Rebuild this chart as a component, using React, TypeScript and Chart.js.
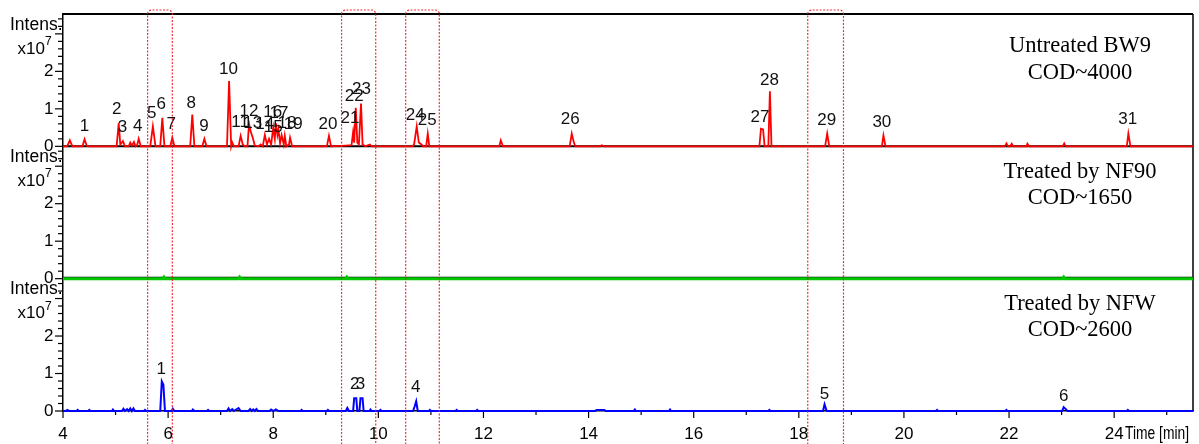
import React, { useEffect, useRef } from 'react';
import { Chart, registerables } from 'chart.js';

Chart.register(...registerables);

// ---------- axes ----------
const X_MIN = 4;
const X_MAX = 25.5;
const X_TICKS = [4, 5, 6, 7, 8, 9, 10, 11, 12, 13, 14, 15, 16, 17, 18, 19, 20, 21, 22, 23, 24, 25];
const X_LABELLED = [4, 6, 8, 10, 12, 14, 16, 18, 20, 22, 24];
const X_TITLE = 'Time [min]';
const Y_MIN = 0;
const Y_MAX = 3.53;
const Y_LABELLED = [0, 1, 2];
const Y_MAJOR = [0, 1, 2, 3];
const Y_MINOR = [0.2, 0.4, 0.6, 0.8, 1.2, 1.4, 1.6, 1.8, 2.2, 2.4, 2.6, 2.8, 3.2, 3.4];

// ---------- panels ----------
const PANEL_TITLES: [string, string][] = [
  ['Untreated BW9', 'COD~4000'],
  ['Treated by NF90', 'COD~1650'],
  ['Treated by NFW', 'COD~2600'],
];

// ---------- traces: [time (min), intensity (x10^7)] ----------
const untreatedBW9: [number, number][] = [
  [4.0, 0], [4.08, 0], [4.13, 0.16], [4.18, 0], [4.37, 0], [4.41, 0.19], [4.45, 0.02], [4.48, 0],
  [5.02, 0], [5.06, 0.62], [5.09, 0.05], [5.14, 0.14], [5.18, 0], [5.25, 0], [5.28, 0.1], [5.31, 0.02],
  [5.35, 0.12], [5.38, 0], [5.41, 0.03], [5.44, 0.2], [5.48, 0], [5.66, 0], [5.71, 0.53], [5.76, 0],
  [5.85, 0], [5.89, 0.76], [5.93, 0], [6.04, 0], [6.08, 0.23], [6.12, 0], [6.42, 0], [6.46, 0.85],
  [6.5, 0], [6.65, 0], [6.69, 0.2], [6.73, 0], [7.12, 0], [7.16, 1.74], [7.2, 0], [7.22, 0.1], [7.25, 0],
  [7.34, 0], [7.38, 0.28], [7.42, 0.05], [7.46, 0], [7.51, 0], [7.54, 0.6], [7.57, 0.4], [7.61, 0.23],
  [7.65, 0.02], [7.72, 0], [7.76, 0.05], [7.8, 0], [7.84, 0.3], [7.88, 0.05], [7.92, 0.2], [7.96, 0.05],
  [8.0, 0.5], [8.03, 0.2], [8.05, 0.62], [8.08, 0.3], [8.1, 0.45], [8.13, 0.08], [8.16, 0.3], [8.2, 0.05],
  [8.22, 0.28], [8.25, 0], [8.3, 0.05], [8.32, 0.23], [8.36, 0], [9.02, 0], [9.06, 0.28], [9.1, 0],
  [9.38, 0.02], [9.49, 0.03], [9.52, 0.38], [9.54, 0.1], [9.57, 1.03], [9.6, 0.1], [9.63, 0.05],
  [9.67, 1.14], [9.7, 0.05], [9.75, 0], [9.84, 0.05], [9.87, 0], [10.65, 0], [10.68, 0.05], [10.73, 0.53],
  [10.77, 0.1], [10.82, 0.05], [10.85, 0], [10.91, 0], [10.94, 0.34], [10.97, 0], [12.3, 0], [12.33, 0.16],
  [12.37, 0], [13.64, 0], [13.68, 0.34], [13.72, 0.1], [13.75, 0], [14.22, 0], [14.25, 0.03], [14.3, 0],
  [17.25, 0], [17.28, 0.47], [17.32, 0.45], [17.35, 0], [17.42, 0], [17.45, 1.47], [17.48, 0],
  [18.5, 0], [18.54, 0.34], [18.58, 0], [19.58, 0], [19.61, 0.29], [19.65, 0], [21.92, 0], [21.95, 0.08],
  [21.98, 0], [22.02, 0], [22.05, 0.07], [22.08, 0], [22.33, 0], [22.35, 0.07], [22.38, 0], [23.02, 0],
  [23.05, 0.08], [23.08, 0], [24.24, 0], [24.27, 0.34], [24.31, 0], [25.5, 0],
];

const treatedNF90: [number, number][] = [
  [4.0, 0], [5.9, 0], [5.92, 0.04], [5.94, 0], [7.34, 0], [7.36, 0.04], [7.38, 0], [9.38, 0], [9.4, 0.04],
  [9.42, 0], [23.02, 0], [23.04, 0.04], [23.06, 0], [25.5, 0],
];

const treatedNFW: [number, number][] = [
  [4.0, 0], [4.06, 0], [4.08, 0.03], [4.12, 0], [4.26, 0], [4.28, 0.03], [4.3, 0], [4.48, 0], [4.5, 0.03],
  [4.52, 0], [4.93, 0], [4.95, 0.04], [4.97, 0], [5.12, 0], [5.15, 0.06], [5.18, 0], [5.22, 0.05],
  [5.25, 0], [5.28, 0.07], [5.31, 0], [5.34, 0.07], [5.37, 0], [5.54, 0], [5.56, 0.03], [5.58, 0], [5.85, 0],
  [5.88, 0.79], [5.91, 0.7], [5.94, 0], [6.07, 0], [6.09, 0.06], [6.12, 0], [6.45, 0], [6.47, 0.04],
  [6.5, 0], [6.74, 0], [6.76, 0.03], [6.78, 0], [7.12, 0], [7.15, 0.07], [7.18, 0], [7.22, 0.05], [7.25, 0],
  [7.34, 0.08], [7.38, 0], [7.53, 0], [7.56, 0.05], [7.59, 0], [7.62, 0.04], [7.65, 0], [7.68, 0.05],
  [7.71, 0], [7.93, 0], [7.96, 0.04], [8.0, 0], [8.05, 0.04], [8.1, 0], [8.52, 0], [8.54, 0.03], [8.56, 0],
  [9.02, 0], [9.04, 0.03], [9.06, 0], [9.38, 0], [9.41, 0.08], [9.44, 0], [9.52, 0], [9.54, 0.34],
  [9.58, 0.34], [9.6, 0], [9.64, 0], [9.66, 0.34], [9.7, 0.34], [9.72, 0], [9.83, 0], [9.85, 0.04],
  [9.87, 0], [10.02, 0], [10.04, 0.03], [10.06, 0], [10.66, 0], [10.69, 0.12], [10.72, 0.26], [10.75, 0],
  [10.96, 0], [10.98, 0.03], [11.0, 0], [11.47, 0], [11.49, 0.03], [11.51, 0], [11.86, 0], [11.88, 0.03],
  [11.9, 0], [14.13, 0], [14.15, 0.03], [14.3, 0.03], [14.32, 0], [14.86, 0], [14.88, 0.04], [14.9, 0],
  [15.53, 0], [15.55, 0.04], [15.57, 0], [17.42, 0], [17.44, 0.03], [17.46, 0], [18.46, 0], [18.49, 0.18],
  [18.53, 0], [20.61, 0], [20.63, 0.03], [20.65, 0], [21.93, 0], [21.95, 0.03], [21.97, 0], [23.01, 0],
  [23.04, 0.1], [23.08, 0.05], [23.11, 0], [24.24, 0], [24.26, 0.03], [24.28, 0], [25.5, 0],
];

// ---------- peak labels: [text, time, intensity] ----------
const untreatedLabels: [string, number, number][] = [
  ['1', 4.41, 0.53], ['2', 5.02, 0.99], ['3', 5.13, 0.51], ['4', 5.42, 0.53], ['5', 5.69, 0.88],
  ['6', 5.87, 1.12], ['7', 6.06, 0.59], ['8', 6.44, 1.15], ['9', 6.68, 0.53], ['10', 7.15, 2.05],
  ['11', 7.37, 0.64], ['12', 7.54, 0.94], ['13', 7.61, 0.62], ['14', 7.84, 0.59], ['15', 8.0, 0.51],
  ['16', 7.99, 0.91], ['17', 8.11, 0.88], ['18', 8.26, 0.61], ['19', 8.38, 0.59], ['20', 9.04, 0.59],
  ['21', 9.46, 0.75], ['22', 9.54, 1.33], ['23', 9.68, 1.51], ['24', 10.7, 0.83], ['25', 10.93, 0.69],
  ['26', 13.65, 0.71], ['27', 17.26, 0.78], ['28', 17.44, 1.76], ['29', 18.53, 0.69], ['30', 19.58, 0.65],
  ['31', 24.26, 0.71],
];
const nfwLabels: [string, number, number][] = [
  ['1', 5.87, 1.12], ['2', 9.55, 0.71], ['3', 9.66, 0.71], ['4', 10.71, 0.62], ['5', 18.49, 0.45],
  ['6', 23.04, 0.4],
];

// ---------- highlighted retention-time windows (min) ----------
const highlightWindows: [number, number][] = [
  [5.61, 6.08], [9.3, 9.95], [10.52, 11.16], [18.17, 18.85],
];

const SANS = "'Liberation Sans', Arial, sans-serif";
const SERIF = "'Liberation Serif', 'Times New Roman', serif";
const PANEL_IDS = ['yTop', 'yMid', 'yBot'];

const toXY = (arr: [number, number][]) => arr.map(([x, y]) => ({ x, y }));

const line = (ctx: CanvasRenderingContext2D, x1: number, y1: number, x2: number, y2: number) => {
  ctx.beginPath();
  ctx.moveTo(x1, y1);
  ctx.lineTo(x2, y2);
  ctx.stroke();
};

const framePlugin = {
  id: 'chromFrame',
  beforeDatasetsDraw(chart: any) {
    const { ctx, chartArea: a, scales } = chart;
    const xs = scales.x;
    ctx.save();
    ctx.strokeStyle = '#000';
    ctx.lineWidth = 2;
    line(ctx, a.left, a.top, a.right, a.top);
    line(ctx, a.left, scales.yTop.bottom, a.right, scales.yTop.bottom);
    line(ctx, a.left, scales.yMid.bottom - 1, a.right, scales.yMid.bottom - 1);
    ctx.lineWidth = 1.5;
    line(ctx, a.right, a.top, a.right, a.bottom);

    ctx.lineWidth = 1.2;
    for (const id of PANEL_IDS) {
      const s = scales[id];
      for (const v of Y_MAJOR) {
        const y = s.getPixelForValue(v);
        line(ctx, a.left - 8, y, a.left, y);
      }
      for (const v of Y_MINOR) {
        const y = s.getPixelForValue(v);
        line(ctx, a.left - 5, y, a.left, y);
      }
    }
    for (const v of X_TICKS) {
      const px = xs.getPixelForValue(v);
      const len = X_LABELLED.includes(v) ? 7 : 4;
      line(ctx, px, a.bottom, px, a.bottom + len);
    }

    // axis titles per panel
    ctx.fillStyle = '#000';
    for (const id of PANEL_IDS) {
      const s = scales[id];
      ctx.textAlign = 'right';
      ctx.textBaseline = 'alphabetic';
      ctx.font = `17.5px ${SANS}`;
      ctx.fillText('Intens.', a.left - 0.5, s.top + 15.5);
      ctx.font = `17px ${SANS}`;
      ctx.fillText('x10', 45, s.top + 39.5);
      ctx.textAlign = 'left';
      ctx.font = `12px ${SANS}`;
      ctx.fillText('7', 45, s.top + 31);
    }
    ctx.restore();
  },
  afterDatasetsDraw(chart: any) {
    const { ctx, chartArea: a, scales } = chart;
    const xs = scales.x;
    ctx.save();
    ctx.fillStyle = '#111';
    ctx.textAlign = 'center';
    ctx.textBaseline = 'middle';
    ctx.font = `17px ${SANS}`;
    for (const [t, x, y] of untreatedLabels) {
      ctx.fillText(t, xs.getPixelForValue(x), scales.yTop.getPixelForValue(y));
    }
    for (const [t, x, y] of nfwLabels) {
      ctx.fillText(t, xs.getPixelForValue(x), scales.yBot.getPixelForValue(y));
    }

    // panel titles
    ctx.fillStyle = '#000';
    ctx.font = `22.5px ${SERIF}`;
    const offs = [[32, 59], [25.5, 51.5], [25.5, 51.5]];
    PANEL_IDS.forEach((id, i) => {
      const s = scales[id];
      ctx.fillText(PANEL_TITLES[i][0], 1080, s.top + offs[i][0]);
      ctx.fillText(PANEL_TITLES[i][1], 1080, s.top + offs[i][1]);
    });

    // x axis title (condensed)
    ctx.font = `18px ${SANS}`;
    ctx.textAlign = 'left';
    ctx.textBaseline = 'alphabetic';
    const w = ctx.measureText(X_TITLE).width;
    ctx.save();
    ctx.translate(1125, a.bottom + 27.5);
    ctx.scale(64 / w, 1);
    ctx.fillText(X_TITLE, 0, 0);
    ctx.restore();

    // highlighted windows
    ctx.strokeStyle = 'rgba(232, 30, 40, 0.9)';
    ctx.lineWidth = 1.2;
    ctx.setLineDash([2, 1.5]);
    const top = a.top - 4;
    const bottom = chart.height + 4;
    const r = 4;
    for (const [t0, t1] of highlightWindows) {
      const x0 = xs.getPixelForValue(t0);
      const x1 = xs.getPixelForValue(t1);
      ctx.beginPath();
      ctx.moveTo(x0, bottom);
      ctx.lineTo(x0, top + r);
      ctx.arcTo(x0, top, x0 + r, top, r);
      ctx.lineTo(x1 - r, top);
      ctx.arcTo(x1, top, x1, top + r, r);
      ctx.lineTo(x1, bottom);
      ctx.stroke();
    }
    ctx.restore();
  },
};

const yAxis = (weight: number) => ({
  type: 'linear' as const,
  position: 'left' as const,
  stack: 'panels',
  stackWeight: 1,
  weight,
  min: Y_MIN,
  max: Y_MAX,
  afterBuildTicks: (s: any) => {
    s.ticks = Y_LABELLED.map((v) => ({ value: v }));
  },
  afterFit: (s: any) => {
    s.width = 55;
    s.paddingTop = 0;
    s.paddingBottom = 0;
  },
  grid: { display: false, drawTicks: false },
  border: { display: true, color: '#000', width: 1.5 },
  ticks: {
    color: '#000',
    font: { family: SANS, size: 17 },
    padding: 9.5,
    autoSkip: false,
    callback: (v: any) => String(v),
  },
});

export default function App() {
  const ref = useRef<HTMLCanvasElement | null>(null);
  useEffect(() => {
    if (!ref.current) return;
    const chart = new Chart(ref.current, {
      type: 'line',
      data: {
        datasets: [
          {
            label: PANEL_TITLES[0][0],
            data: toXY(untreatedBW9),
            yAxisID: 'yTop',
            borderColor: '#ff0000',
            borderWidth: 1.8,
            pointRadius: 0,
            tension: 0,
            clip: false as any,
          },
          {
            label: PANEL_TITLES[1][0],
            data: toXY(treatedNF90),
            yAxisID: 'yMid',
            borderColor: '#00c800',
            borderWidth: 3,
            pointRadius: 0,
            tension: 0,
            clip: false as any,
          },
          {
            label: PANEL_TITLES[2][0],
            data: toXY(treatedNFW),
            yAxisID: 'yBot',
            borderColor: '#0000ff',
            borderWidth: 2,
            pointRadius: 0,
            tension: 0,
            clip: false as any,
          },
        ],
      },
      options: {
        animation: false,
        responsive: false,
        maintainAspectRatio: false,
        layout: { padding: { left: 8, right: 6, top: 14, bottom: 0 } },
        plugins: { legend: { display: false }, tooltip: { enabled: false } },
        scales: {
          x: {
            type: 'linear',
            position: 'bottom',
            min: X_MIN,
            max: X_MAX,
            afterBuildTicks: (s: any) => {
              s.ticks = X_TICKS.map((v) => ({ value: v }));
            },
            afterFit: (s: any) => {
              s.height = 33;
            },
            grid: { display: false },
            border: { display: true, color: '#000', width: 1.5 },
            ticks: {
              color: '#000',
              font: { family: SANS, size: 17 },
              padding: 5,
              autoSkip: false,
              maxRotation: 0,
              callback: (v: any) => (X_LABELLED.includes(Number(v)) ? String(v) : ''),
            },
          },
          yTop: yAxis(3),
          yMid: yAxis(2),
          yBot: yAxis(1),
        } as any,
      },
      plugins: [framePlugin],
    });
    return () => chart.destroy();
  }, []);
  return (
    <div style={{ position: 'absolute', left: 0, top: 0, width: 1199, height: 444, background: '#fff' }}>
      <canvas ref={ref} width={1199} height={444} style={{ display: 'block' }} />
    </div>
  );
}
